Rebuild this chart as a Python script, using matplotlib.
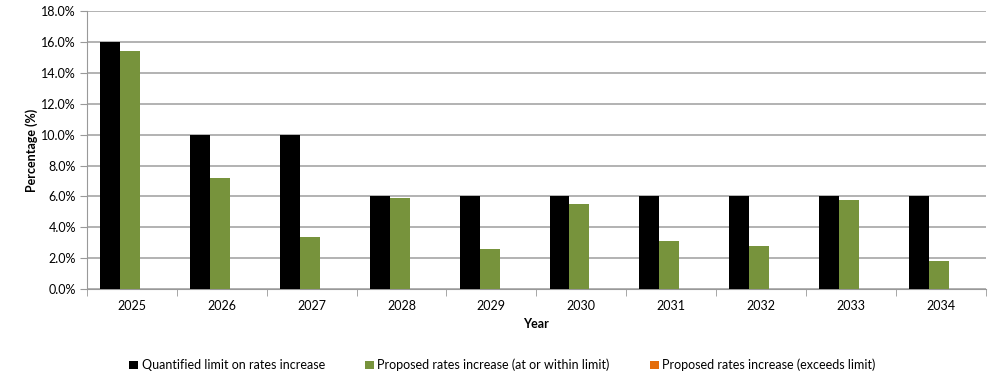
import numpy as np
import matplotlib.pyplot as plt
from matplotlib.ticker import PercentFormatter

plt.rcParams['font.family'] = ['Lato', 'DejaVu Sans']

years = ['2025', '2026', '2027', '2028', '2029', '2030', '2031', '2032', '2033', '2034']
limit = [16.0, 10.0, 10.0, 6.0, 6.0, 6.0, 6.0, 6.0, 6.0, 6.0]
within = [15.4, 7.2, 3.4, 5.9, 2.6, 5.5, 3.1, 2.8, 5.8, 1.8]
exceeds = [0, 0, 0, 0, 0, 0, 0, 0, 0, 0]

series = [
    ('Quantified limit on rates increase', limit, '#000000'),
    ('Proposed rates increase (at or within limit)', within, '#77933C'),
    ('Proposed rates increase (exceeds limit)', exceeds, '#E46C0A'),
]

fig = plt.figure(figsize=(9.93, 3.72), dpi=100)
ax = fig.add_axes([0.0876, 0.223, 0.905, 0.747])

x = np.arange(len(years))
w = 0.222
for i, (name, vals, col) in enumerate(series):
    ax.bar(x + (i - 1) * w - 0.02, vals, width=w, color=col, label=name, zorder=3)

ax.set_xlim(-0.5, len(years) - 0.5)
ax.set_ylim(0, 18)
ax.set_yticks(np.arange(0, 18.1, 2))
ax.yaxis.set_major_formatter(PercentFormatter(decimals=1))
ax.set_xticks(x)
ax.set_xticklabels(years)
ax.set_xticks(np.arange(-0.5, len(years)), minor=True)
ax.tick_params(axis='x', which='major', length=0, pad=8, labelsize=9)
ax.tick_params(axis='x', which='minor', length=5, color='#999999', direction='out')
ax.tick_params(axis='y', length=5, color='#999999', labelsize=9, pad=3)

ax.grid(axis='y', color='#A6A6A6', linewidth=1.2, zorder=0)
for s in ['top', 'right']:
    ax.spines[s].set_visible(False)
for s in ['left', 'bottom']:
    ax.spines[s].set_color('#999999')

ax.set_ylabel('Percentage (%)', fontsize=9, fontweight='bold', labelpad=2)
ax.set_xlabel('Year', fontsize=9, fontweight='bold', labelpad=4)

fig.legend(loc='center', bbox_to_anchor=(0.506, 1 - 365 / 372), ncol=3, frameon=False,
           fontsize=9, handlelength=0.7, handleheight=0.7, handletextpad=0.3,
           columnspacing=3.2)

fig.savefig('out.png', dpi=100)
